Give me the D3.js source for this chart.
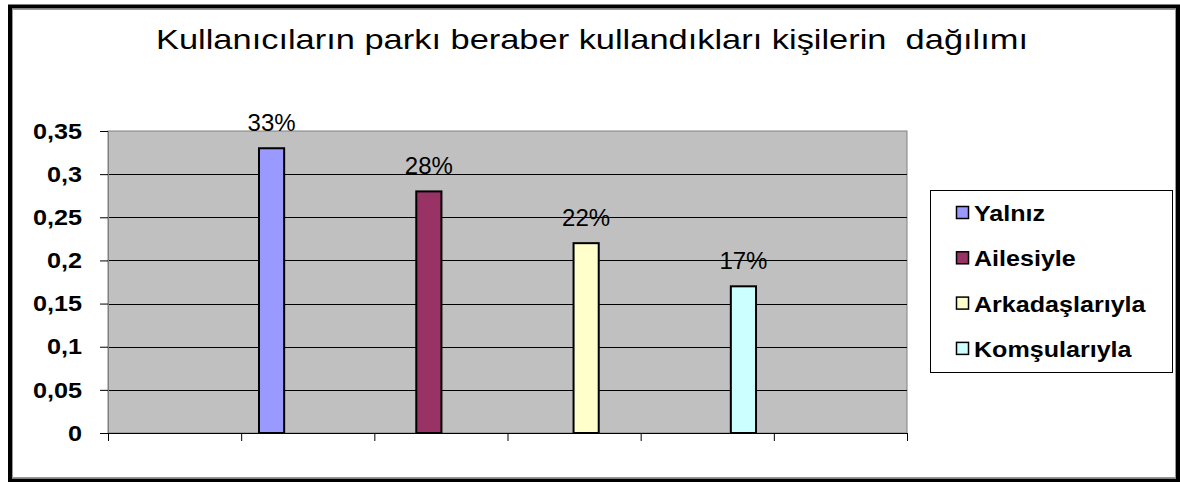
<!DOCTYPE html>
<html>
<head>
<meta charset="utf-8">
<script src="https://cdn.jsdelivr.net/npm/d3@7"></script>
<style>
  body { margin: 0; background: #fff; }
  text { font-family: "Liberation Sans", Arial, sans-serif; }
</style>
</head>
<body>
<div id="chart"></div>
<script>
// chart data
const titleText = "Kullanıcıların parkı beraber kullandıkları kişilerin  dağılımı";
const seriesNames = ["Yalnız", "Ailesiyle", "Arkadaşlarıyla", "Komşularıyla"];
const seriesValues = [0.33, 0.28, 0.22, 0.17];
const seriesColors = ["#9999ff", "#993366", "#ffffcc", "#ccffff"];
const yTicks = [0, 0.05, 0.1, 0.15, 0.2, 0.25, 0.3, 0.35];
const categoryTicks = [0, 1, 2, 3, 4, 5, 6];

const width = 1180;
const height = 482;
const plot = {left: 108, right: 907, top: 131, bottom: 433};

const svg = d3.select("#chart")
  .append("svg")
  .attr("width", width)
  .attr("height", height);

// outer frame
svg.append("rect")
  .attr("x", 10).attr("y", 6.5)
  .attr("width", 1168).attr("height", 474)
  .attr("fill", "#fff")
  .attr("stroke", "#000")
  .attr("stroke-width", 4);
svg.append("rect")
  .attr("x", 12.5).attr("y", 9.5)
  .attr("width", 1163).attr("height", 468)
  .attr("fill", "none")
  .attr("stroke", "#999")
  .attr("stroke-width", 1);

// title
svg.append("text")
  .attr("x", 592).attr("y", 49)
  .attr("text-anchor", "middle")
  .attr("font-size", 28)
  .attr("textLength", 872)
  .attr("lengthAdjust", "spacingAndGlyphs")
  .style("white-space", "pre")
  .text(titleText);

const y = d3.scaleLinear().domain([0, 0.35]).range([plot.bottom, plot.top]);
const xCat = d3.scaleLinear().domain([0, 6]).range([plot.left, plot.right]);
const xBar = d3.scaleBand()
  .domain(seriesNames)
  .range([plot.left, plot.right])
  .paddingInner(0.84)
  .paddingOuter(0.96);

// plot background
svg.append("rect")
  .attr("x", plot.left).attr("y", plot.top)
  .attr("width", plot.right - plot.left)
  .attr("height", plot.bottom - plot.top)
  .attr("fill", "#c0c0c0")
  .attr("stroke", "#808080")
  .attr("stroke-width", 1);

// gridlines
svg.append("g")
  .selectAll("line")
  .data(yTicks.filter(d => d > 0 && d < 0.35))
  .enter().append("line")
  .attr("x1", plot.left).attr("x2", plot.right)
  .attr("y1", d => Math.round(y(d)) + 0.5)
  .attr("y2", d => Math.round(y(d)) + 0.5)
  .attr("stroke", "#000")
  .attr("stroke-width", 1);

// y axis
const locale = d3.formatLocale({decimal: ",", thousands: ".", grouping: [3], currency: ["", ""]});
const yAxis = svg.append("g")
  .attr("transform", `translate(${plot.left},0)`)
  .call(d3.axisLeft(y).tickValues(yTicks).tickSize(8).tickPadding(18).tickFormat(locale.format(".2~f")));
yAxis.select(".domain").attr("stroke", "#808080");
yAxis.selectAll(".tick line").attr("stroke", "#000");
yAxis.selectAll(".tick text")
  .attr("font-size", 22.5)
  .attr("font-weight", "bold")
  .attr("fill", "#000")
  .attr("font-family", "Liberation Sans, Arial, sans-serif")
  .attr("textLength", function () { return this.getComputedTextLength() * 1.12; })
  .attr("lengthAdjust", "spacingAndGlyphs");

// x axis
const xAxis = svg.append("g")
  .attr("transform", `translate(0,${plot.bottom})`)
  .call(d3.axisBottom(xCat).tickValues(categoryTicks).tickSize(8).tickFormat(""));
xAxis.select(".domain").attr("stroke", "#000");
xAxis.selectAll(".tick line").attr("stroke", "#000");

// bars
svg.append("g")
  .selectAll("rect")
  .data(seriesValues)
  .enter().append("rect")
  .attr("x", (d, i) => xBar(seriesNames[i]))
  .attr("y", d => y(d))
  .attr("width", xBar.bandwidth())
  .attr("height", d => y(0) - y(d))
  .attr("fill", (d, i) => seriesColors[i])
  .attr("stroke", "#000")
  .attr("stroke-width", 2);

// value labels
svg.append("g")
  .selectAll("text")
  .data(seriesValues)
  .enter().append("text")
  .attr("x", (d, i) => xBar(seriesNames[i]) + xBar.bandwidth() / 2)
  .attr("y", d => y(d) - 17)
  .attr("text-anchor", "middle")
  .attr("font-size", 24)
  .text(d3.format(".0%"));

// legend
const legend = svg.append("g");
legend.append("rect")
  .attr("x", 930.5).attr("y", 190.5)
  .attr("width", 242).attr("height", 182)
  .attr("fill", "#fff")
  .attr("stroke", "#000")
  .attr("stroke-width", 1);

const item = legend.selectAll("g")
  .data(seriesNames)
  .enter().append("g")
  .attr("transform", (d, i) => `translate(956,${213 + i * 45.3})`);
item.append("rect")
  .attr("x", 0.5).attr("y", -6.5)
  .attr("width", 12).attr("height", 12)
  .attr("fill", (d, i) => seriesColors[i])
  .attr("stroke", "#000")
  .attr("stroke-width", 1.5);
item.append("text")
  .attr("x", 18).attr("y", 8)
  .attr("font-size", 22)
  .attr("font-weight", "bold")
  .text(d => d)
  .attr("textLength", function () { return this.getComputedTextLength() * 1.14; })
  .attr("lengthAdjust", "spacingAndGlyphs");
</script>
</body>
</html>
